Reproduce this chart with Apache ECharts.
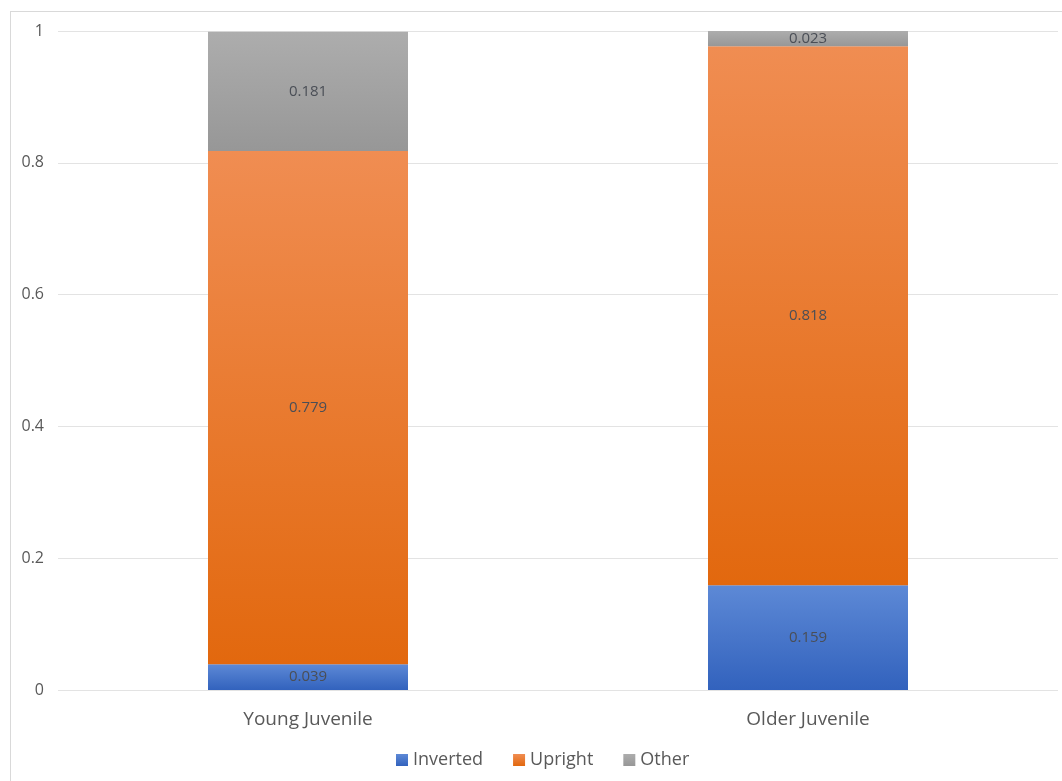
<!DOCTYPE html>
<html><head><meta charset="utf-8">
<script src="https://cdn.jsdelivr.net/npm/echarts@6/dist/echarts.min.js"></script>
<style>
html,body{margin:0;padding:0;background:#fff;}
#frame{position:absolute;left:10px;top:11px;width:1060px;height:780px;border:1px solid #d9d9d9;box-sizing:border-box;}
#c{position:absolute;left:0;top:0;width:1062px;height:781px;}
</style></head>
<body><div id="frame"></div><div id="c"></div>
<script>
const categories = ['Young Juvenile', 'Older Juvenile'];
const inverted = [0.039, 0.159];
const upright = [0.779, 0.818];
const other = [0.181, 0.023];
const yTicks = ['0', '0.2', '0.4', '0.6', '0.8', '1'];

const FONT = '"Open Sans", sans-serif';
function grad(top, bottom){
  return new echarts.graphic.LinearGradient(0,0,0,1,[{offset:0,color:top},{offset:1,color:bottom}]);
}
const label = {show:true, position:'inside', color:'#4a4e56', fontSize:15, fontFamily:FONT,
  formatter: p => p.value.toFixed(3)};
const chart = echarts.init(document.getElementById('c'));
chart.setOption({
  animation:false,
  textStyle:{fontFamily:FONT},
  grid:{left:58, right:4, top:31, bottom:91, containLabel:false},
  legend:{bottom:7, left:391, itemWidth:12, itemHeight:12, itemGap:30, icon:'rect',
    textStyle:{color:'#595959', fontSize:18, fontFamily:FONT},
    data:['Inverted','Upright','Other']},
  xAxis:{type:'category', data:categories,
    axisLine:{show:false}, axisTick:{show:false},
    axisLabel:{color:'#595959', fontSize:19, margin:20, fontFamily:FONT}},
  yAxis:{type:'value', min:0, max:1, interval:0.2,
    axisLine:{show:false}, axisTick:{show:false},
    splitLine:{lineStyle:{color:'#e3e3e3', width:1}},
    axisLabel:{color:'#595959', fontSize:16, margin:14, fontFamily:FONT,
      formatter: v => yTicks[Math.round(v/0.2)]}},
  series:[
    {name:'Inverted', type:'bar', stack:'s', barWidth:'40%', data:inverted,
      itemStyle:{color:grad('#5d89d6','#3262bd')}, label},
    {name:'Upright', type:'bar', stack:'s', data:upright,
      itemStyle:{color:grad('#f08d52','#e2680e')}, label},
    {name:'Other', type:'bar', stack:'s', data:other,
      itemStyle:{color:grad('#adadad','#979797')}, label}
  ]
});
</script></body></html>
